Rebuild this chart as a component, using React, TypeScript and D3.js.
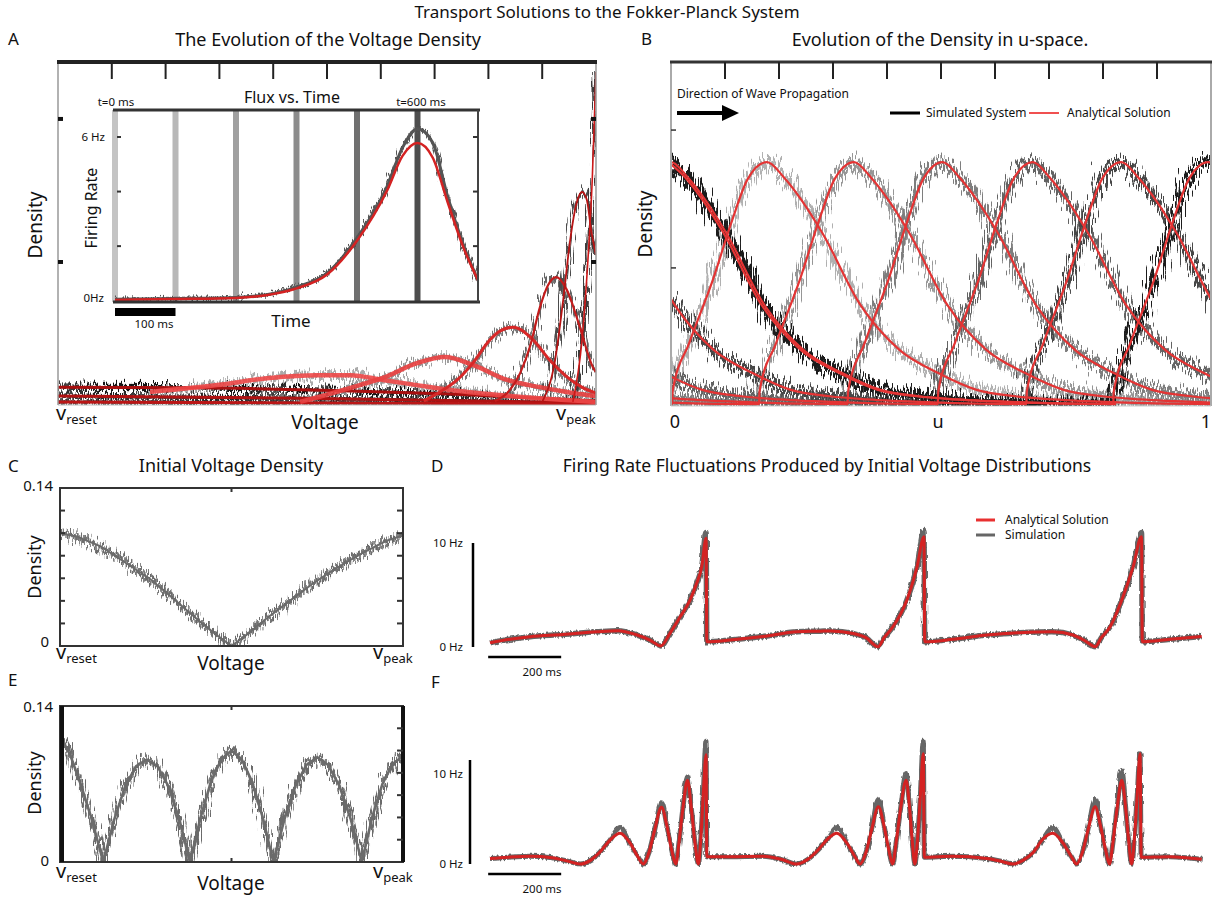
import React from 'react';
import * as d3 from 'd3';

type P = [number, number];

const FONT = "'Noto Sans', 'DejaVu Sans', sans-serif";

// ---------- Panel A : voltage density snapshots (v: 0 = v_reset, 1 = v_peak; density, arbitrary units) ----------
const aFlat1: P[] = [[0, 5.2], [0.264, 5.0], [0.543, 4.1], [0.729, 3.2], [0.896, 2.0], [1, 1.2]];
const aFlat2: P[] = [[0, 2.6], [0.45, 2.0], [1, 0.6]];
const aFlat3: P[] = [[0, 0.9], [1, 0.3]];
const aCurve1: P[] = [[0.171, 3.8], [0.296, 5.8], [0.394, 7.9], [0.481, 8.7], [0.543, 8.7], [0.604, 7.3], [0.667, 5.8], [0.729, 4.4], [0.822, 2.9], [1, 0.9]];
const aCurve2: P[] = [[0.45, 0.9], [0.511, 3.5], [0.561, 5.8], [0.604, 7.9], [0.667, 12.2], [0.719, 14.0], [0.771, 11.7], [0.835, 7.3], [0.896, 5.2], [0.957, 3.5], [1, 2.6]];
const aCurve3: P[] = [[0.68, 1.2], [0.71, 3.8], [0.742, 7.3], [0.771, 12.2], [0.803, 19.0], [0.822, 21.6], [0.846, 22.7], [0.883, 19.0], [0.914, 13.1], [0.946, 8.2], [0.976, 5.0], [1, 3.5]];
const aCurve4: P[] = [[0.812, 1.2], [0.835, 3.5], [0.859, 9.3], [0.877, 16.9], [0.896, 28.6], [0.911, 35.0], [0.926, 37.3], [0.946, 33.5], [0.97, 22.7], [0.994, 11.1], [1, 9.6]];
const aCurve5: P[] = [[0.9, 0.9], [0.924, 13.1], [0.939, 30.6], [0.952, 48.1], [0.963, 58.3], [0.974, 62.1], [0.983, 59.8], [0.991, 51.0], [1, 43.7]];
const aCurve6: P[] = [[0.957, 0.9], [0.974, 19.0], [0.985, 42.3], [0.993, 65.6], [1, 97.1]];
const aTicksY = [41.7, 83.4];

// ---------- Inset : flux vs time ----------
const fluxTime = [0, 100, 200, 250, 300, 350, 400, 450, 475, 500, 525, 550, 575, 600];
const fluxAnalytic = [0.03, 0.06, 0.1, 0.2, 0.45, 0.95, 2.2, 4.05, 5.3, 5.78, 5.25, 3.6, 2.0, 0.75];
const fluxSimulated = [0.05, 0.08, 0.12, 0.22, 0.5, 1.0, 2.3, 4.2, 5.6, 6.3, 5.8, 3.8, 2.1, 0.75];
const snapshotTimes = [0, 100, 200, 300, 400, 500];
const insetTicksHz = [2, 4, 6];

// ---------- Panel B : travelling wave in u-space ----------
const bPeakPositions = [0, 0.178, 0.339, 0.503, 0.67, 0.834, 0.995];
const bProfile: P[] = [[-0.175, 0.06], [-0.144, 0.26], [-0.1, 0.52], [-0.065, 0.76], [-0.036, 0.93], [0, 1], [0.03, 0.94], [0.065, 0.84], [0.102, 0.71], [0.174, 0.41], [0.245, 0.23], [0.317, 0.135], [0.388, 0.066], [0.46, 0.04], [0.53, 0.027], [0.65, 0.015], [0.824, 0.008]];
const bTicksY = [0.566, 1.131];

// ---------- Panel C / E : initial voltage densities ----------
const cDensity: P[] = [[0, 0.1], [0.05, 0.097], [0.12, 0.088], [0.2, 0.072], [0.26, 0.06], [0.33, 0.042], [0.41, 0.021], [0.46, 0.009], [0.5, 0], [0.54, 0.009], [0.6, 0.024], [0.67, 0.04], [0.74, 0.056], [0.8, 0.068], [0.88, 0.082], [0.95, 0.093], [1, 0.098]];
const eDensity: P[] = [[0, 0.113], [0.03, 0.096], [0.06, 0.07], [0.093, 0.038], [0.126, 0], [0.158, 0.038], [0.19, 0.068], [0.222, 0.086], [0.253, 0.092], [0.284, 0.086], [0.316, 0.068], [0.348, 0.038], [0.379, 0], [0.41, 0.04], [0.44, 0.072], [0.47, 0.092], [0.5, 0.1], [0.53, 0.092], [0.56, 0.072], [0.591, 0.04], [0.622, 0], [0.654, 0.038], [0.686, 0.068], [0.718, 0.087], [0.75, 0.094], [0.782, 0.087], [0.815, 0.068], [0.848, 0.038], [0.88, 0], [0.91, 0.04], [0.94, 0.07], [0.97, 0.088], [1, 0.095]];
const densityTicks = [0.02, 0.04, 0.06, 0.08, 0.1, 0.12];

// ---------- Panel D / F : firing rate (t in ms, rate in Hz) ----------
const dAnalytic: P[] = [[0, 0.41], [55, 0.75], [110, 0.99], [200, 1.2], [293, 1.47], [351, 1.57], [403, 1.15], [438, 0.67], [468, 0.1], [493, 1.31], [521, 2.9], [548, 4.5], [566, 6.1], [580, 7.7], [592, 10.45], [594, 0.5], [658, 0.67], [748, 1.0], [841, 1.47], [904, 1.52], [935, 1.55], [995, 1.3], [1030, 0.9], [1063, 0.03], [1080, 0.9], [1104, 1.95], [1142, 4.5], [1170, 7.7], [1189, 10.6], [1191, 0.5], [1268, 0.74], [1362, 1.15], [1452, 1.38], [1542, 1.47], [1597, 1.15], [1630, 0.6], [1658, 0.03], [1675, 0.9], [1699, 1.95], [1734, 4.8], [1762, 7.7], [1785, 10.6], [1787, 0.5], [1863, 0.74], [1950, 1.0]];
const dSimPeaks: P[] = [[592, 11.0], [1189, 11.2], [1785, 11.0]];
const fAnalytic: P[] = [[0, 0.52], [50, 0.65], [110, 0.74], [170, 0.6], [210, 0.3], [247, 0], [275, 0.35], [300, 1.1], [329, 2.3], [356, 2.95], [384, 2.0], [405, 0.7], [420, 0], [435, 1.05], [450, 3.1], [470, 5.45], [485, 3.6], [498, 1.3], [509, 0], [518, 2.15], [528, 5.2], [541, 8.05], [552, 5.2], [562, 1.9], [571, 0], [577, 2.15], [584, 6.5], [592, 10.5], [594, 0.7], [658, 0.7], [748, 0.74], [800, 0.43], [840, 0], [870, 0.43], [900, 1.4], [925, 2.4], [950, 2.95], [978, 2.0], [1000, 0.7], [1014, 0], [1030, 1.1], [1045, 3.2], [1064, 5.5], [1080, 3.6], [1093, 1.3], [1103, 0], [1113, 2.15], [1125, 5.35], [1140, 8.05], [1150, 5.2], [1157, 2.15], [1164, 0], [1171, 2.25], [1179, 6.5], [1187, 10.6], [1190, 0.65], [1268, 0.74], [1361, 0.52], [1400, 0.26], [1433, 0], [1460, 0.35], [1488, 1.1], [1515, 2.4], [1542, 2.95], [1570, 2.0], [1593, 0.7], [1607, 0], [1623, 1.1], [1638, 3.2], [1658, 5.5], [1673, 3.6], [1687, 1.3], [1697, 0], [1707, 2.15], [1718, 5.35], [1731, 8.05], [1742, 5.2], [1750, 2.15], [1758, 0], [1765, 2.25], [1773, 6.5], [1781, 10.6], [1784, 0.65], [1863, 0.7], [1950, 0.45]];
const fSimPeaks: P[] = [[356, 3.5], [470, 5.9], [541, 8.4], [592, 11.8], [950, 3.5], [1064, 6.2], [1140, 8.7], [1187, 11.8], [1542, 3.5], [1658, 6.2], [1731, 9.0], [1781, 10.6]];

const withPeaks = (base: P[], peaks: P[]): P[] =>
  base.map(([t, v]) => {
    const p = peaks.find(q => q[0] === t);
    return [t, p ? p[1] : v] as P;
  });

const T = (props: any) => {
  const { x, y, s = 16, a = 'start', children, ...rest } = props;
  return (
    <text x={x} y={y} fontSize={s} textAnchor={a} fontFamily={FONT} fill="#111" {...rest}>
      {children}
    </text>
  );
};

const VSub = ({ x, y, sub }: { x: number; y: number; sub: string }) => (
  <text x={x} y={y} fontSize={20} fontFamily={FONT} fill="#111">
    v<tspan fontSize={13} dy={4}>{sub}</tspan>
  </text>
);

const NoiseFilter = ({ id, fx, fy, scale, seeds, dilate }: { id: string; fx: number; fy: number; scale: number; seeds: number[]; dilate?: string }) => (
  <filter id={id} filterUnits="userSpaceOnUse" x="0" y="0" width="1214" height="899">
    {seeds.map((s, i) => (
      <React.Fragment key={i}>
        <feTurbulence type="fractalNoise" baseFrequency={`${fx} ${fy}`} numOctaves={2} seed={s} result={`t${i}`} />
        <feDisplacementMap in="SourceGraphic" in2={`t${i}`} scale={scale} xChannelSelector="R" yChannelSelector="G" result={`d${i}`} />
      </React.Fragment>
    ))}
    <feMerge result="m">
      {seeds.map((s, i) => <feMergeNode key={i} in={`d${i}`} />)}
    </feMerge>
    {dilate ? <feMorphology in="m" operator="dilate" radius={dilate} /> : null}
  </filter>
);

export default function App() {
  const xA = d3.scaleLinear().domain([0, 1]).range([58, 596]);
  const yA = d3.scaleLinear().domain([0, 100]).range([405, 62]);
  const xIn = d3.scaleLinear().domain([0, 600]).range([115, 478]);
  const yIn = d3.scaleLinear().domain([0, 6]).range([300.7, 137]);
  const xB = d3.scaleLinear().domain([0, 1]).range([671, 1211]);
  const yB = d3.scaleLinear().domain([0, 1.41]).range([406, 62]);
  const xC = d3.scaleLinear().domain([0, 1]).range([60, 403]);
  const yC = d3.scaleLinear().domain([0, 0.14]).range([646, 488]);
  const yE = d3.scaleLinear().domain([0, 0.14]).range([862, 706]);
  const xD = d3.scaleLinear().domain([0, 2000]).range([490, 1220]);
  const yD = d3.scaleLinear().domain([0, 10]).range([647, 543]);
  const yF = d3.scaleLinear().domain([0, 10]).range([864, 760]);

  const mono = (xs: any, ys: any) => d3.line<P>().x(d => xs(d[0])).y(d => ys(d[1])).curve(d3.curveMonotoneX);
  const lin = (xs: any, ys: any) => d3.line<P>().x(d => xs(d[0])).y(d => ys(d[1]));

  const lineA = mono(xA, yA);
  const aCurves = [aFlat1, aFlat2, aFlat3, aCurve1, aCurve2, aCurve3, aCurve4, aCurve5, aCurve6];
  const aSimColors = ['#141414', '#262626', '#333', '#aaaaaa', '#969696', '#777', '#626262', '#4c4c4c', '#3a3a3a'];
  const aRedColors = ['#a80f0f', '#b01212', '#bb1616', '#ee4848', '#ea4040', '#d82828', '#c41c1c', '#b71414', '#cc1818'];
  const aRedWidths = [3, 3, 3, 4.5, 4.5, 3, 2.2, 1.8, 1.6];

  const lineIn = mono(xIn, yIn);
  const fluxA: P[] = fluxTime.map((t, i) => [t, fluxAnalytic[i]]);
  const fluxS: P[] = fluxTime.map((t, i) => [t, fluxSimulated[i]]);
  const bandColors = ['#c4c4c4', '#b8b8b8', '#a0a0a0', '#8c8c8c', '#707070', '#4e4e4e'];

  const lineB = mono(xB, yB);
  const bCurve = (p: number): P[] => [
    ...bProfile.filter(d => d[0] >= 0).map(d => [d[0] + p - 1, d[1]] as P),
    ...bProfile.map(d => [d[0] + p, d[1]] as P),
  ];
  const bSimColors = ['#1c1c1c', '#b0b0b0', '#969696', '#7e7e7e', '#646464', '#464646', '#1c1c1c'];

  const lineC = lin(xC, yC);
  const lineE = lin(xC, yE);
  const lineD = mono(xD, yD);
  const lineF = mono(xD, yF);
  const dSim = withPeaks(dAnalytic, dSimPeaks);
  const fSim = withPeaks(fAnalytic, fSimPeaks);

  const RED = '#d42222';

  return (
    <svg width={1214} height={899} style={{ position: 'absolute', left: 0, top: 0, background: '#fff' }}>
      <defs>
        <NoiseFilter id="nzB" fx={0.8} fy={0.02} scale={34} seeds={[3, 11, 17]} dilate="0.4 1.2" />
        <NoiseFilter id="nzA" fx={0.8} fy={0.02} scale={24} seeds={[5, 13]} dilate="0.3 1" />
        <NoiseFilter id="nzC" fx={0.8} fy={0.03} scale={24} seeds={[9, 21, 33]} dilate="0.3 1" />
        <NoiseFilter id="nzI" fx={0.8} fy={0.03} scale={14} seeds={[4, 8]} />
        <NoiseFilter id="nzS" fx={0.5} fy={0.1} scale={4} seeds={[2]} />
        <clipPath id="clipA"><rect x={58} y={62} width={538} height={343} /></clipPath>
        <clipPath id="clipB"><rect x={671} y={62} width={540} height={344} /></clipPath>
        <clipPath id="clipC"><rect x={60} y={488} width={343} height={158} /></clipPath>
        <clipPath id="clipE"><rect x={60} y={706} width={343} height={156} /></clipPath>
        <clipPath id="clipIn"><rect x={115} y={110} width={363} height={192} /></clipPath>
      </defs>

      {/* Global title */}
      <T x={607} y={18} s={17} a="middle">Transport Solutions to the Fokker-Planck System</T>

      {/* ================= Panel A ================= */}
      <T x={8} y={45} s={17}>A</T>
      <T x={328} y={46} s={18} a="middle">The Evolution of the Voltage Density</T>
      <g clipPath="url(#clipA)">
        {aCurves.map((c, i) => (
          <path key={'as' + i} d={lineA(c) || ''} fill="none" stroke={aSimColors[i]} strokeWidth={i < 3 ? 1.3 : 1.6} filter="url(#nzA)" />
        ))}
        {aCurves.map((c, i) => (
          <path key={'ar' + i} d={lineA(c) || ''} fill="none" stroke={aRedColors[i]} strokeWidth={aRedWidths[i]} strokeOpacity={i >= 3 && i <= 4 ? 0.9 : 1} />
        ))}
      </g>
      {/* A frame */}
      <line x1={xA(0)} x2={xA(0)} y1={62} y2={405} stroke="#999" strokeWidth={1.5} />
      <line x1={xA(1)} x2={xA(1)} y1={62} y2={405} stroke="#999" strokeWidth={1.5} />
      <line x1={xA(0)} x2={xA(1)} y1={405} y2={405} stroke="#bbb" strokeWidth={1} />
      <line x1={xA(0) - 1} x2={xA(1) + 1} y1={62} y2={62} stroke="#222" strokeWidth={4} />
      {d3.range(1, 10).map(i => (
        <line key={'at' + i} x1={xA(i / 10)} x2={xA(i / 10)} y1={62} y2={79} stroke="#222" strokeWidth={2} />
      ))}
      {aTicksY.map((v, i) => (
        <g key={'aty' + i}>
          <line x1={xA(0)} x2={xA(0) + 5} y1={yA(v)} y2={yA(v)} stroke="#111" strokeWidth={4} />
          <line x1={xA(1) - 5} x2={xA(1)} y1={yA(v)} y2={yA(v)} stroke="#111" strokeWidth={4} />
        </g>
      ))}
      <T x={0} y={0} s={19} a="middle" transform="translate(42,225) rotate(-90)">Density</T>
      <T x={325} y={429} s={19} a="middle">Voltage</T>
      <VSub x={56} y={420} sub="reset" />
      <VSub x={556} y={420} sub="peak" />

      {/* Inset */}
      <rect x={115} y={110} width={363} height={192} fill="#fff" />
      {snapshotTimes.map((t, i) => (
        <rect key={'band' + i} x={xIn(t) - 3} y={110} width={6} height={192} fill={bandColors[i]} />
      ))}
      <g clipPath="url(#clipIn)">
        <path d={lineIn(fluxS) || ''} fill="none" stroke="#555" strokeWidth={3} />
        <path d={lineIn(fluxS) || ''} fill="none" stroke="#555" strokeWidth={1.6} filter="url(#nzI)" />
        <path d={lineIn(fluxA) || ''} fill="none" stroke={RED} strokeWidth={2.5} />
      </g>
      <line x1={113} x2={480} y1={110} y2={110} stroke="#333" strokeWidth={3} />
      <line x1={113} x2={480} y1={302} y2={302} stroke="#333" strokeWidth={3} />
      <line x1={478} x2={478} y1={110} y2={302} stroke="#444" strokeWidth={2} />
      {insetTicksHz.map((v, i) => (
        <g key={'it' + i}>
          <line x1={117} x2={121} y1={yIn(v)} y2={yIn(v)} stroke="#333" strokeWidth={2} />
          <line x1={473} x2={478} y1={yIn(v)} y2={yIn(v)} stroke="#333" strokeWidth={2} />
        </g>
      ))}
      <T x={292} y={103} s={16} a="middle">Flux vs. Time</T>
      <T x={116} y={106} s={11.5} a="middle">t=0 ms</T>
      <T x={421} y={106} s={11.5} a="middle">t=600 ms</T>
      <T x={105} y={141} s={11.5} a="end">6 Hz</T>
      <T x={104} y={302} s={11.5} a="end">0Hz</T>
      <T x={0} y={0} s={16} a="middle" transform="translate(97,208) rotate(-90)">Firing Rate</T>
      <T x={291} y={327} s={17} a="middle">Time</T>
      <rect x={xIn(0)} y={308} width={xIn(100) - xIn(0)} height={8} fill="#000" />
      <T x={154} y={328} s={11.5} a="middle">100 ms</T>

      {/* ================= Panel B ================= */}
      <T x={641} y={45} s={17}>B</T>
      <T x={940} y={46} s={18} a="middle">Evolution of the Density in u-space.</T>
      <g clipPath="url(#clipB)">
        {bPeakPositions.map((p, i) => (
          <path key={'bs' + i} d={lineB(bCurve(p)) || ''} fill="none" stroke={bSimColors[i]} strokeWidth={2} filter="url(#nzB)" />
        ))}
        {bPeakPositions.map((p, i) => (
          <path key={'br' + i} d={lineB(bCurve(p)) || ''} fill="none" stroke="#e43434" strokeWidth={2.2} />
        ))}
      </g>
      <line x1={xB(0)} x2={xB(0)} y1={62} y2={406} stroke="#aaa" strokeWidth={2} />
      <line x1={xB(1)} x2={xB(1)} y1={62} y2={406} stroke="#aaa" strokeWidth={2} />
      <line x1={xB(0)} x2={xB(1)} y1={406} y2={406} stroke="#ccc" strokeWidth={1} />
      <line x1={xB(0) - 1} x2={xB(1) + 1} y1={62} y2={62} stroke="#333" strokeWidth={3} />
      {d3.range(1, 10).map(i => (
        <line key={'bt' + i} x1={xB(i / 10)} x2={xB(i / 10)} y1={62} y2={79} stroke="#222" strokeWidth={2} />
      ))}
      {bTicksY.map((v, i) => (
        <line key={'bty' + i} x1={xB(0)} x2={xB(0) + 5} y1={yB(v)} y2={yB(v)} stroke="#333" strokeWidth={1.5} />
      ))}
      <T x={677} y={98} s={12}>Direction of Wave Propagation</T>
      <line x1={677} x2={724} y1={113} y2={113} stroke="#000" strokeWidth={4} />
      <path d="M722,105 L739,113 L722,121 Z" fill="#000" />
      <line x1={890} x2={920} y1={113} y2={113} stroke="#000" strokeWidth={3} />
      <T x={926} y={117} s={12}>Simulated System</T>
      <line x1={1029} x2={1059} y1={113} y2={113} stroke="#f05050" strokeWidth={2} />
      <T x={1067} y={117} s={12}>Analytical Solution</T>
      <T x={0} y={0} s={19} a="middle" transform="translate(652,224) rotate(-90)">Density</T>
      <T x={675} y={428} s={18} a="middle">0</T>
      <T x={938} y={428} s={18} a="middle">u</T>
      <T x={1206} y={428} s={18} a="middle">1</T>

      {/* ================= Panel C ================= */}
      <T x={8} y={472} s={17}>C</T>
      <T x={231} y={472} s={18} a="middle">Initial Voltage Density</T>
      <g clipPath="url(#clipC)">
        <path d={lineC(cDensity) || ''} fill="none" stroke="#6b6b6b" strokeWidth={1.2} filter="url(#nzC)" />
        <path d={lineC(cDensity) || ''} fill="none" stroke="#6b6b6b" strokeWidth={2} />
      </g>
      <rect x={60} y={488} width={343} height={158} fill="none" stroke="#333" strokeWidth={2} />
      {densityTicks.map((v, i) => (
        <g key={'ct' + i}>
          <line x1={60} x2={65} y1={yC(v)} y2={yC(v)} stroke="#333" strokeWidth={2} />
          <line x1={397} x2={403} y1={yC(v)} y2={yC(v)} stroke="#333" strokeWidth={2} />
        </g>
      ))}
      <line x1={xC(0.5)} x2={xC(0.5)} y1={488} y2={492} stroke="#333" strokeWidth={2} />
      <T x={53} y={491} s={15} a="end">0.14</T>
      <T x={49} y={647} s={15} a="end">0</T>
      <T x={0} y={0} s={18} a="middle" transform="translate(41,567) rotate(-90)">Density</T>
      <T x={231} y={670} s={19} a="middle">Voltage</T>
      <VSub x={56} y={659} sub="reset" />
      <VSub x={373} y={659} sub="peak" />

      {/* ================= Panel E ================= */}
      <T x={8} y={686} s={17}>E</T>
      <g clipPath="url(#clipE)">
        <path d={lineE(eDensity) || ''} fill="none" stroke="#6b6b6b" strokeWidth={1.4} filter="url(#nzC)" />
        <path d={lineE(eDensity) || ''} fill="none" stroke="#6b6b6b" strokeWidth={2.6} />
      </g>
      <rect x={60} y={706} width={343} height={156} fill="none" stroke="#333" strokeWidth={2} />
      <line x1={62} x2={62} y1={706} y2={862} stroke="#111" strokeWidth={4} />
      <line x1={403} x2={403} y1={706} y2={862} stroke="#111" strokeWidth={4} />
      {densityTicks.map((v, i) => (
        <line key={'et' + i} x1={397} x2={403} y1={yE(v)} y2={yE(v)} stroke="#333" strokeWidth={2} />
      ))}
      <line x1={xC(0.5)} x2={xC(0.5)} y1={706} y2={710} stroke="#333" strokeWidth={2} />
      <line x1={xC(0.5)} x2={xC(0.5)} y1={858} y2={862} stroke="#333" strokeWidth={2} />
      <T x={53} y={712} s={15} a="end">0.14</T>
      <T x={49} y={866} s={15} a="end">0</T>
      <T x={0} y={0} s={18} a="middle" transform="translate(41,783) rotate(-90)">Density</T>
      <T x={231} y={890} s={19} a="middle">Voltage</T>
      <VSub x={56} y={878} sub="reset" />
      <VSub x={373} y={878} sub="peak" />

      {/* ================= Panel D ================= */}
      <T x={431} y={472} s={17}>D</T>
      <T x={827} y={472} s={17.5} a="middle">Firing Rate Fluctuations Produced by Initial Voltage Distributions</T>
      <path d={lineD(dSim) || ''} fill="none" stroke="#666" strokeWidth={5.5} filter="url(#nzS)" />
      <path d={lineD(dAnalytic) || ''} fill="none" stroke={RED} strokeWidth={3} />
      <line x1={473} x2={473} y1={yD(0)} y2={yD(10)} stroke="#000" strokeWidth={2.5} />
      <line x1={xD(-5)} x2={xD(195)} y1={657} y2={657} stroke="#000" strokeWidth={2.5} />
      <T x={463} y={547} s={11.5} a="end">10 Hz</T>
      <T x={463} y={651} s={11.5} a="end">0 Hz</T>
      <T x={542} y={676} s={11.5} a="middle">200 ms</T>
      <line x1={976} x2={995} y1={520} y2={520} stroke="#e83030" strokeWidth={3} />
      <T x={1005} y={524} s={12}>Analytical Solution</T>
      <line x1={976} x2={995} y1={535} y2={535} stroke="#666" strokeWidth={3} />
      <T x={1005} y={539} s={12}>Simulation</T>

      {/* ================= Panel F ================= */}
      <T x={431} y={688} s={17}>F</T>
      <path d={lineF(fSim) || ''} fill="none" stroke="#666" strokeWidth={5} filter="url(#nzS)" />
      <path d={lineF(fAnalytic) || ''} fill="none" stroke={RED} strokeWidth={3} />
      <line x1={470} x2={470} y1={yF(0)} y2={yF(10)} stroke="#000" strokeWidth={2.5} />
      <line x1={xD(-5)} x2={xD(195)} y1={874} y2={874} stroke="#000" strokeWidth={2.5} />
      <T x={463} y={778} s={11.5} a="end">10 Hz</T>
      <T x={463} y={868} s={11.5} a="end">0 Hz</T>
      <T x={542} y={893} s={11.5} a="middle">200 ms</T>
    </svg>
  );
}
